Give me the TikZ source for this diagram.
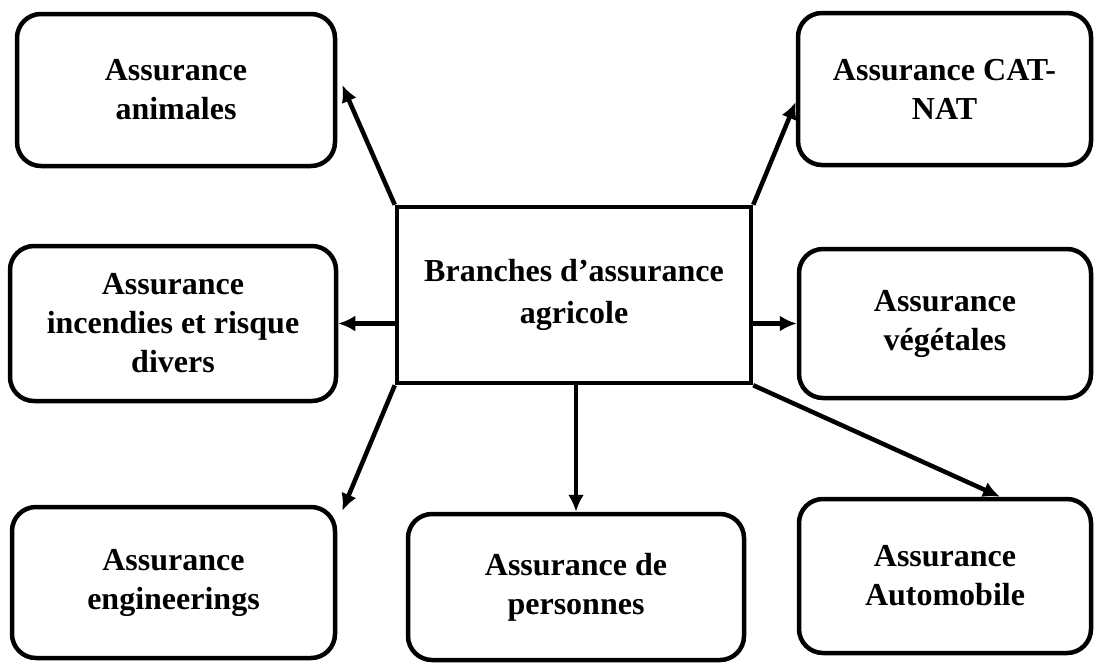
\documentclass[tikz,border=0pt]{standalone}
\usepackage{fontspec}
\setmainfont{Liberation Serif}
\usetikzlibrary{arrows.meta, positioning}

\begin{document}
\begin{tikzpicture}[x=1pt, y=-1pt]
    % Setup the styles for the boxes
        \tikzset{branche/.style={draw,
                                 rounded corners=24pt,
                                 line width=4.5pt,
                                 align=center,
                                 inner sep=0pt,
                                 font=\bfseries\fontsize{32}{39}\selectfont},
                 centre/.style={branche, rounded corners=0pt}}
        \useasboundingbox (0,0) rectangle (1099,667);
        % Draw the boxes
        \node[centre, minimum width=354pt, minimum height=176pt] at (574, 295)
            (agricole) {Branches d’assurance\\[3pt]agricole};
        \node[branche, minimum width=318pt, minimum height=152pt] at (176, 90)
            (animales) {Assurance\\animales};
        \node[branche, minimum width=293pt, minimum height=152pt] at (944.5, 89)
            (catnat) {Assurance CAT-\\NAT};
        \node[branche, minimum width=326pt, minimum height=155pt] at (173, 323.5)
            (incendies) {Assurance\\incendies et risque\\divers};
        \node[branche, minimum width=292pt, minimum height=149pt] at (945, 323.5)
            (vegetales) {Assurance\\végétales};
        \node[branche, minimum width=323pt, minimum height=151pt] at (173.5, 582.5)
            (engineerings) {Assurance\\engineerings};
        \node[branche, minimum width=336pt, minimum height=146pt] at (576, 587)
            (personnes) {Assurance de\\personnes};
        \node[branche, minimum width=292pt, minimum height=154pt] at (945, 576)
            (automobile) {Assurance\\Automobile};
        % Connect the boxes with arrows
        \draw[line width=4.5pt,
              >={Latex[length=17pt, width=16pt]}]
        (agricole.north west) edge[->] ([xshift=5pt, yshift=5pt]animales.east)
        (agricole.north east) edge[->] ([yshift=-13pt]catnat.west)
        (incendies.east -| agricole.west) edge[->] (incendies.east)
        (vegetales.west -| agricole.east) edge[->] (vegetales.west)
        (agricole.south west) edge[->] ([xshift=5pt, yshift=-6pt]engineerings.north east)
        (personnes.north |- agricole.south) edge[->] (personnes.north)
        (agricole.south east) edge[->] ([xshift=55pt]automobile.north);
\end{tikzpicture}
\end{document}
